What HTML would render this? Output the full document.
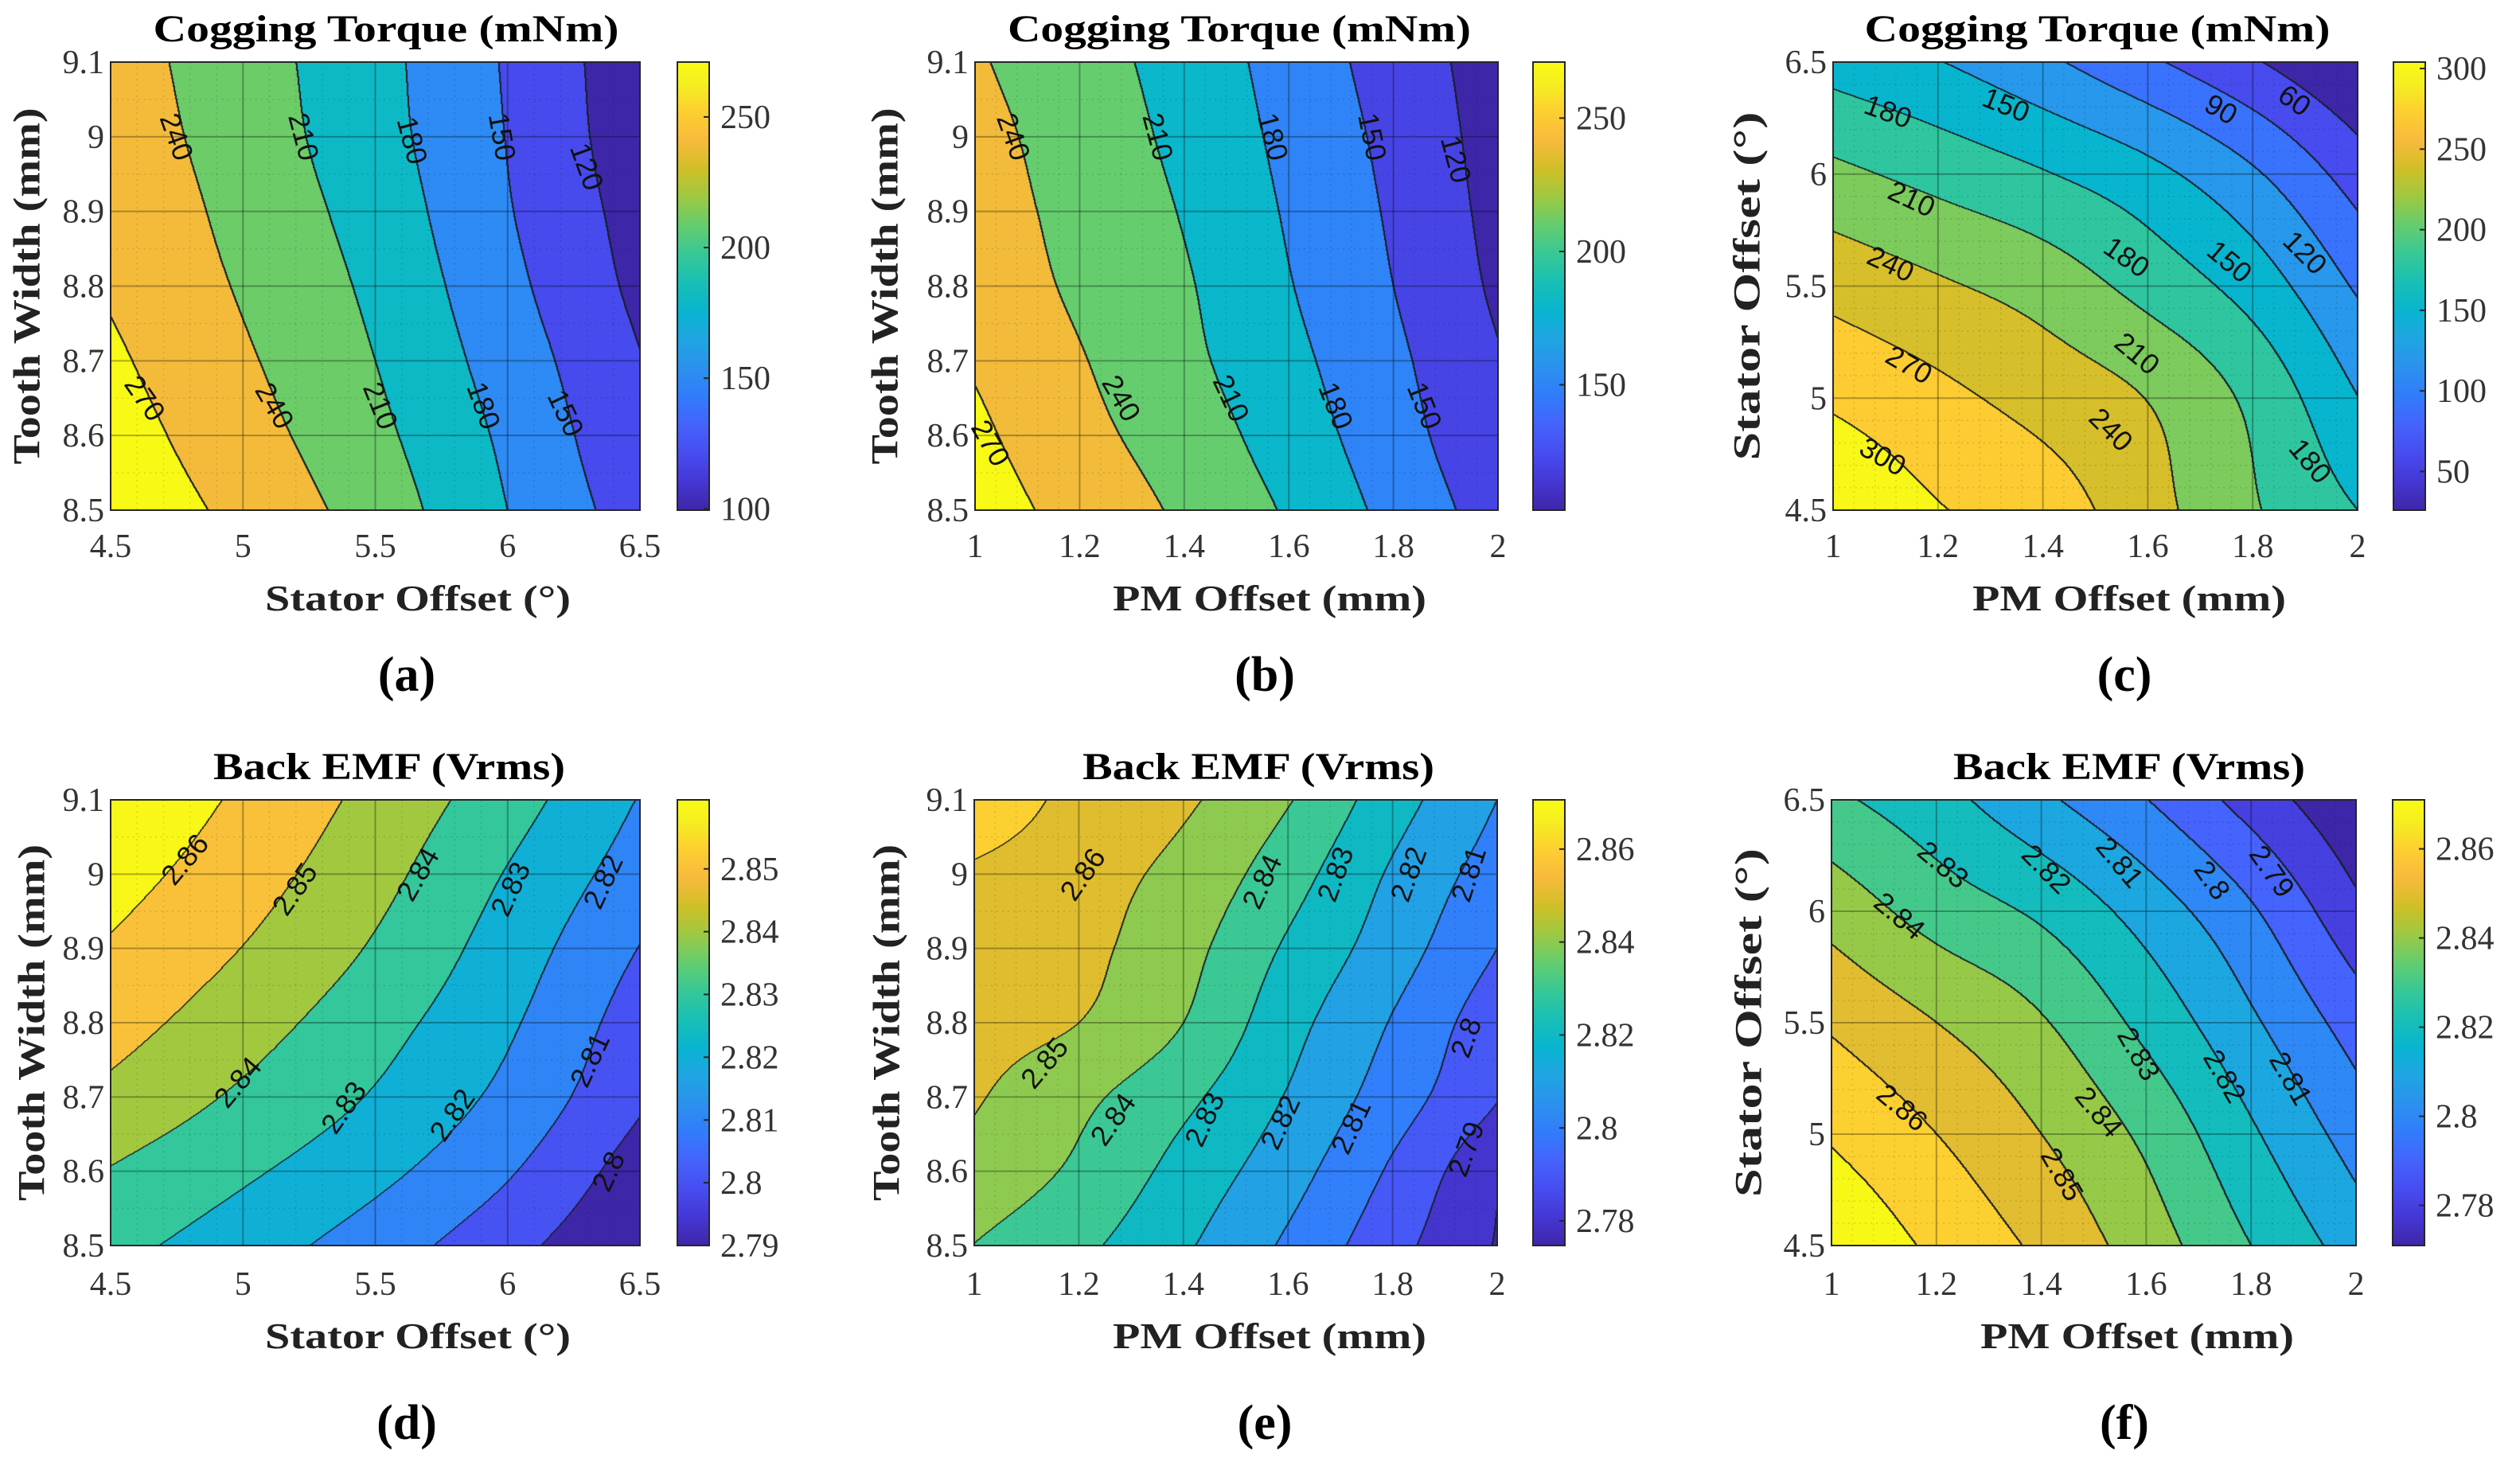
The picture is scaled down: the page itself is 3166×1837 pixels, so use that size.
<!DOCTYPE html>
<html><head><meta charset="utf-8">
<style>
html,body{margin:0;padding:0;background:#fff;}
#root{position:relative;width:3166px;height:1837px;overflow:hidden;background:#fff;}
canvas{position:absolute;}
svg{position:absolute;left:0;top:0;}
</style></head>
<body>
<div id="root">
<svg id="svg" width="3166" height="1837"></svg>
</div>
<script>
// ---------- Panel (a): Cogging torque vs stator offset / tooth width ----------
const aX=[4.5,5,5.5,6,6.5];
const aY=[8.5,8.6,8.7,8.8,8.9,9.0,9.1];
const aZ=[[290,262,226,180,135],[283,252,217,174,126],[275,244,210,166,121],[267,237,203.5,158,113],[263,231,197,152,108],[257,226,191,149,102],[253,223,189,147,100]];
const aLevels=[120,150,180,210,240,270];
const aClim=[99.5,271];
const aCbTicks=[100,150,200,250];
const aCbTickLabels=['100','150','200','250'];
const aXTicks=[4.5,5,5.5,6,6.5];
const aXTickLabels=['4.5','5','5.5','6','6.5'];
const aYTicks=[8.5,8.6,8.7,8.8,8.9,9.0,9.1];
const aYTickLabels=['8.5','8.6','8.7','8.8','8.9','9','9.1'];
const aLabelText=['240','210','180','150','120','270','240','210','180','150'];
const aLabelX=[4.75,5.23,5.64,5.98,6.3,4.63,5.12,5.52,5.91,6.22];
const aLabelY=[9.0,9.0,8.995,9.0,8.96,8.65,8.64,8.64,8.64,8.63];
const aLabelRot=[70,75,75,80,70,55,60,68,70,65];

// ---------- Panel (b) ----------
const bX=[1,1.2,1.4,1.6,1.8,2];
const bY=[8.5,8.6,8.7,8.8,8.9,9.0,9.1];
const bZ=[[285,259,235,206.5,171,136],[276,249,225.5,196,162,127],[267,242,217,188,156,122],[258,235,213,181.5,150,115],[253,231,208,177,146,111],[249,227,202.5,172.5,142,108],[243,222,198,168,137,106]];
const bLevels=[120,150,180,210,240,270];
const bClim=[103,271];
const bCbTicks=[150,200,250];
const bCbTickLabels=['150','200','250'];
const bXTicks=[1,1.2,1.4,1.6,1.8,2];
const bXTickLabels=['1','1.2','1.4','1.6','1.8','2'];
const bYTicks=[8.5,8.6,8.7,8.8,8.9,9.0,9.1];
const bYTickLabels=['8.5','8.6','8.7','8.8','8.9','9','9.1'];
const bLabelText=['240','210','180','150','120','270','240','210','180','150'];
const bLabelX=[1.074,1.35,1.57,1.76,1.92,1.03,1.28,1.49,1.69,1.86];
const bLabelY=[9.0,9.0,9.0,9.0,8.97,8.59,8.65,8.65,8.64,8.64];
const bLabelRot=[70,75,75,78,75,60,60,65,68,68];

// ---------- Panel (c) ----------
const cX=[1,1.2,1.4,1.6,1.8,2];
const cY=[4.5,5,5.5,6,6.5];
const cZ=[[329,302,286,251,213,180],[295,277.5,259,239,203,150.6],[260,244,227,199.5,167,116],[217,200,182,159,124,76],[168,151,126,95,63,28]];
const cLevels=[60,90,120,150,180,210,240,270,300];
const cClim=[26,304];
const cCbTicks=[50,100,150,200,250,300];
const cCbTickLabels=['50','100','150','200','250','300'];
const cXTicks=[1,1.2,1.4,1.6,1.8,2];
const cXTickLabels=['1','1.2','1.4','1.6','1.8','2'];
const cYTicks=[4.5,5,5.5,6,6.5];
const cYTickLabels=['4.5','5','5.5','6','6.5'];
const cLabelText=['180','150','90','60','210','240','270','300','180','150','120','210','240','180'];
const cLabelX=[1.105,1.33,1.74,1.88,1.15,1.11,1.145,1.095,1.56,1.756,1.90,1.58,1.53,1.91];
const cLabelY=[6.28,6.31,6.29,6.33,5.89,5.60,5.15,4.74,5.63,5.61,5.65,5.20,4.86,4.72];
const cLabelRot=[20,22,30,35,25,25,30,30,35,40,45,40,45,50];

// ---------- Panel (d) ----------
const dX=[4.5,5,5.5,6,6.5];
const dY=[8.5,8.6,8.7,8.8,8.9,9.0,9.1];
const dZ=[[2.833,2.8247,2.815,2.8032,2.79],[2.8395,2.8316,2.8227,2.811,2.7952],[2.8475,2.8384,2.8291,2.8173,2.8015],[2.854,2.8443,2.8338,2.8215,2.805],[2.859,2.8498,2.8389,2.8253,2.8097],[2.864,2.8543,2.8432,2.8294,2.8151],[2.869,2.8583,2.8471,2.8343,2.8195]];
const dLevels=[2.80,2.81,2.82,2.83,2.84,2.85,2.86];
const dClim=[2.79,2.861];
const dCbTicks=[2.79,2.80,2.81,2.82,2.83,2.84,2.85];
const dCbTickLabels=['2.79','2.8','2.81','2.82','2.83','2.84','2.85'];
const dXTicks=[4.5,5,5.5,6,6.5];
const dXTickLabels=['4.5','5','5.5','6','6.5'];
const dYTicks=[8.5,8.6,8.7,8.8,8.9,9.0,9.1];
const dYTickLabels=['8.5','8.6','8.7','8.8','8.9','9','9.1'];
const dLabelText=['2.86','2.85','2.84','2.83','2.82','2.84','2.83','2.82','2.81','2.8'];
const dLabelX=[4.78,5.195,5.66,6.01,6.36,4.98,5.38,5.79,6.31,6.38];
const dLabelY=[9.02,8.98,9.0,8.98,8.99,8.72,8.686,8.676,8.75,8.60];
const dLabelRot=[-50,-55,-60,-65,-65,-50,-55,-55,-65,-65];

// ---------- Panel (e) ----------
const eX=[1,1.2,1.4,1.6,1.8,2];
const eY=[8.5,8.6,8.7,8.8,8.9,9.0,9.1];
const eZ=[[2.8398,2.8322,2.8214,2.8083,2.7933,2.7793],[2.8462,2.8382,2.8265,2.814,2.7985,2.7815],[2.851,2.8424,2.8324,2.8193,2.805,2.7905],[2.8537,2.85,2.84,2.8236,2.8093,2.7938],[2.8564,2.8525,2.8433,2.8286,2.8147,2.80],[2.8585,2.8536,2.8471,2.8343,2.8187,2.8053],[2.869,2.8567,2.8515,2.8407,2.8243,2.81]];
const eLevels=[2.78,2.79,2.80,2.81,2.82,2.83,2.84,2.85,2.86];
const eClim=[2.7747,2.8706];
const eCbTicks=[2.78,2.80,2.82,2.84,2.86];
const eCbTickLabels=['2.78','2.8','2.82','2.84','2.86'];
const eXTicks=[1,1.2,1.4,1.6,1.8,2];
const eXTickLabels=['1','1.2','1.4','1.6','1.8','2'];
const eYTicks=[8.5,8.6,8.7,8.8,8.9,9.0,9.1];
const eYTickLabels=['8.5','8.6','8.7','8.8','8.9','9','9.1'];
const eLabelText=['2.86','2.84','2.83','2.82','2.81','2.85','2.84','2.83','2.82','2.81','2.8','2.79'];
const eLabelX=[1.207,1.55,1.69,1.83,1.945,1.134,1.265,1.44,1.585,1.72,1.94,1.94];
const eLabelY=[9.0,8.99,9.0,9.0,9.0,8.746,8.67,8.67,8.666,8.66,8.78,8.63];
const eLabelRot=[-55,-65,-70,-70,-72,-50,-55,-65,-65,-65,-70,-70];

// ---------- Panel (f) ----------
const fX=[1,1.2,1.4,1.6,1.8,2];
const fY=[4.5,5,5.5,6,6.5];
const fZ=[[2.8788,2.868,2.858,2.845,2.83,2.8155],[2.8688,2.86,2.85,2.8378,2.8214,2.8056],[2.8586,2.85,2.8409,2.8271,2.8116,2.7954],[2.8461,2.8358,2.8281,2.8157,2.8012,2.7825],[2.832,2.8235,2.812,2.8002,2.7858,2.771]];
const fLevels=[2.78,2.79,2.80,2.81,2.82,2.83,2.84,2.85,2.86,2.87];
const fClim=[2.771,2.871];
const fCbTicks=[2.78,2.80,2.82,2.84,2.86];
const fCbTickLabels=['2.78','2.8','2.82','2.84','2.86'];
const fXTicks=[1,1.2,1.4,1.6,1.8,2];
const fXTickLabels=['1','1.2','1.4','1.6','1.8','2'];
const fYTicks=[4.5,5,5.5,6,6.5];
const fYTickLabels=['4.5','5','5.5','6','6.5'];
const fLabelText=['2.83','2.82','2.81','2.8','2.79','2.84','2.83','2.82','2.81','2.86','2.84','2.85'];
const fLabelX=[1.213,1.41,1.55,1.726,1.84,1.13,1.586,1.75,1.876,1.135,1.51,1.44];
const fLabelY=[6.21,6.19,6.22,6.14,6.18,5.98,5.36,5.26,5.25,5.12,5.10,4.82];
const fLabelRot=[40,45,50,55,55,40,60,60,60,40,50,60];

// ---------- layout (pixels, not data) ----------
const R1={top:78,bottom:641}, R2={top:1005,bottom:1565};
const panels=[
 {id:'a',X:aX,Y:aY,Z:aZ,lev:aLevels,clim:aClim,cbt:aCbTicks,cbl:aCbTickLabels,xt:aXTicks,xl:aXTickLabels,yt:aYTicks,yl:aYTickLabels,lt:aLabelText,lx:aLabelX,ly:aLabelY,lr:aLabelRot,
  L:{left:139,right:804,top:R1.top,bottom:R1.bottom,cb0:851,cb1:891},title:'Cogging Torque (mNm)',tcx:485,tlen:585,xt_:'Stator Offset (°)',xcx:525,xlen:384,yt_:'Tooth Width (mm)',ycx:34,ylen:448,letter:'(a)',lcx:511,row:0},
 {id:'b',X:bX,Y:bY,Z:bZ,lev:bLevels,clim:bClim,cbt:bCbTicks,cbl:bCbTickLabels,xt:bXTicks,xl:bXTickLabels,yt:bYTicks,yl:bYTickLabels,lt:bLabelText,lx:bLabelX,ly:bLabelY,lr:bLabelRot,
  L:{left:1225,right:1882,top:R1.top,bottom:R1.bottom,cb0:1926,cb1:1966},title:'Cogging Torque (mNm)',tcx:1557,tlen:582,xt_:'PM Offset (mm)',xcx:1595,xlen:394,yt_:'Tooth Width (mm)',ycx:1112,ylen:448,letter:'(b)',lcx:1589,row:0},
 {id:'c',X:cX,Y:cY,Z:cZ,lev:cLevels,clim:cClim,cbt:cCbTicks,cbl:cCbTickLabels,xt:cXTicks,xl:cXTickLabels,yt:cYTicks,yl:cYTickLabels,lt:cLabelText,lx:cLabelX,ly:cLabelY,lr:cLabelRot,
  L:{left:2303,right:2962,top:R1.top,bottom:R1.bottom,cb0:3007,cb1:3047},title:'Cogging Torque (mNm)',tcx:2635,tlen:585,xt_:'PM Offset (mm)',xcx:2675,xlen:394,yt_:'Stator Offset (°)',ycx:2195,ylen:438,letter:'(c)',lcx:2669,row:0},
 {id:'d',X:dX,Y:dY,Z:dZ,lev:dLevels,clim:dClim,cbt:dCbTicks,cbl:dCbTickLabels,xt:dXTicks,xl:dXTickLabels,yt:dYTicks,yl:dYTickLabels,lt:dLabelText,lx:dLabelX,ly:dLabelY,lr:dLabelRot,
  L:{left:139,right:804,top:R2.top,bottom:R2.bottom,cb0:851,cb1:891},title:'Back EMF (Vrms)',tcx:489,tlen:442,xt_:'Stator Offset (°)',xcx:525,xlen:384,yt_:'Tooth Width (mm)',ycx:40,ylen:448,letter:'(d)',lcx:511,row:1},
 {id:'e',X:eX,Y:eY,Z:eZ,lev:eLevels,clim:eClim,cbt:eCbTicks,cbl:eCbTickLabels,xt:eXTicks,xl:eXTickLabels,yt:eYTicks,yl:eYTickLabels,lt:eLabelText,lx:eLabelX,ly:eLabelY,lr:eLabelRot,
  L:{left:1224,right:1881,top:R2.top,bottom:R2.bottom,cb0:1926,cb1:1966},title:'Back EMF (Vrms)',tcx:1581,tlen:442,xt_:'PM Offset (mm)',xcx:1595,xlen:394,yt_:'Tooth Width (mm)',ycx:1114,ylen:448,letter:'(e)',lcx:1589,row:1},
 {id:'f',X:fX,Y:fY,Z:fZ,lev:fLevels,clim:fClim,cbt:fCbTicks,cbl:fCbTickLabels,xt:fXTicks,xl:fXTickLabels,yt:fYTicks,yl:fYTickLabels,lt:fLabelText,lx:fLabelX,ly:fLabelY,lr:fLabelRot,
  L:{left:2301,right:2960,top:R2.top,bottom:R2.bottom,cb0:3006,cb1:3046},title:'Back EMF (Vrms)',tcx:2675,tlen:442,xt_:'PM Offset (mm)',xcx:2685,xlen:394,yt_:'Stator Offset (°)',ycx:2197,ylen:438,letter:'(f)',lcx:2669,row:1}
];

// MATLAB parula colormap (sampled)
const PAR_T=[0,4,8,12,16,20,24,28,32,36,40,44,48,52,56,60,63].map(i=>i/63);
const PAR=[[.2422,.1504,.6603],[.2706,.2147,.8364],[.2813,.3006,.9414],[.2699,.3892,.9906],[.1963,.4847,.9892],[.1687,.5703,.9359],[.1248,.6459,.8883],[.0297,.7082,.8163],[.0964,.7500,.7120],[.2161,.7843,.5923],[.3909,.8029,.4354],[.6174,.7876,.2612],[.8203,.7498,.1535],[.9728,.7298,.2394],[.9892,.8136,.1885],[.9628,.9373,.1265],[.9769,.9839,.0805]];
function parula(t){
  t=Math.max(0,Math.min(1,t));
  let i=0; while(i<PAR_T.length-2 && t>PAR_T[i+1]) i++;
  const f=(t-PAR_T[i])/(PAR_T[i+1]-PAR_T[i]);
  return PAR[i].map((c,k)=>Math.round(255*(c+(PAR[i+1][k]-c)*f)));
}
// Catmull-Rom cubic interpolation along 1D array
function cr1(arr,i,t){
  const n=arr.length;
  const p1=arr[i], p2=arr[i+1];
  const p0=i>0?arr[i-1]:2*p1-p2;
  const p3=i+2<n?arr[i+2]:2*p2-p1;
  const t2=t*t,t3=t2*t;
  return 0.5*((2*p1)+(-p0+p2)*t+(2*p0-5*p1+4*p2-p3)*t2+(-p0+3*p1-3*p2+p3)*t3);
}
function interp(X,Y,Z,x,y){
  let i=0; while(i<X.length-2 && x>X[i+1]) i++;
  let j=0; while(j<Y.length-2 && y>Y[j+1]) j++;
  const tx=(x-X[i])/(X[i+1]-X[i]), ty=(y-Y[j])/(Y[j+1]-Y[j]);
  const col=Z.map(row=>cr1(row,i,tx));
  return cr1(col,j,ty);
}
const NS='http://www.w3.org/2000/svg';
const svg=document.getElementById('svg');
const root=document.getElementById('root');
function mk(tag,attrs,parent){const e=document.createElementNS(NS,tag);for(const k in attrs)e.setAttribute(k,attrs[k]);(parent||svg).appendChild(e);return e;}

panels.forEach(p=>{
  const L=p.L, X=p.X, Y=p.Y;
  const x0=X[0], x1=X[X.length-1], y0=Y[0], y1=Y[Y.length-1];
  const W=L.right-L.left, H=L.bottom-L.top;
  const sx=v=>L.left+(v-x0)/(x1-x0)*W;
  const sy=v=>L.bottom-(v-y0)/(y1-y0)*H;
  const g=mk('g',{});
  
  

  const cv=document.createElement('canvas');
  cv.width=W; cv.height=H; cv.style.left=L.left+'px'; cv.style.top=L.top+'px';
  
  
  root.insertBefore(cv,svg);
  const ctx=cv.getContext('2d'); const img=ctx.createImageData(W,H); const band=new Int16Array(W*H);
  const bandCol=[];
  for(let k=0;k<=p.lev.length;k++){const v=k===0?p.clim[0]:p.lev[k-1];bandCol.push(parula((v-p.clim[0])/(p.clim[1]-p.clim[0])));}
  for(let j=0;j<H;j++){const yv=y1-(j+0.5)/H*(y1-y0);
    for(let i=0;i<W;i++){const xv=x0+(i+0.5)/W*(x1-x0);
      const z=interp(X,Y,p.Z,xv,yv); let k=0; while(k<p.lev.length && z>=p.lev[k]) k++; band[j*W+i]=k;}}
  for(let q=0;q<W*H;q++){const c=bandCol[band[q]];img.data[q*4]=c[0];img.data[q*4+1]=c[1];img.data[q*4+2]=c[2];img.data[q*4+3]=255;}
  for(let j=0;j<H;j++)for(let i=0;i<W;i++){const q=j*W+i;
    let edge=(i<W-1&&band[q]!==band[q+1])||(j<H-1&&band[q]!==band[q+W]);
    if(edge){[q,(i<W-1?q+1:q)].forEach(r=>{img.data[r*4]=25;img.data[r*4+1]=30;img.data[r*4+2]=40;});}}
  ctx.putImageData(img,0,0);

  for(let t=0;t<p.xt.length-1;t++)for(let m=1;m<5;m++){const v=p.xt[t]+(p.xt[t+1]-p.xt[t])*m/5;
    const l=mk('line',{x1:sx(v),x2:sx(v),y1:L.top,y2:L.bottom,stroke:'rgba(0,0,0,0.13)','stroke-width':1.5,'stroke-dasharray':'2 5'},g);
    
    }
  for(let t=0;t<p.yt.length-1;t++){const n=p.yt.length>5?2:5;for(let m=1;m<n;m++){const v=p.yt[t]+(p.yt[t+1]-p.yt[t])*m/n;
    const l=mk('line',{x1:L.left,x2:L.right,y1:sy(v),y2:sy(v),stroke:'rgba(0,0,0,0.13)','stroke-width':1.5,'stroke-dasharray':'2 5'},g);
    
    }}
  p.xt.forEach((v,idx)=>{
    const l=mk('line',{x1:sx(v),x2:sx(v),y1:L.top,y2:L.bottom,stroke:'rgba(0,0,0,0.3)','stroke-width':2},g);
    
    
    const t=mk('text',{x:sx(v),y:L.top+(p.row?1627-1005:700-78),'text-anchor':'middle','font-family':'Liberation Serif, serif','font-size':42,fill:'#333'},g);
    t.textContent=p.xl[idx];
    
    
  });
  p.yt.forEach((v,idx)=>{
    const l=mk('line',{x1:L.left,x2:L.right,y1:sy(v),y2:sy(v),stroke:'rgba(0,0,0,0.3)','stroke-width':2},g);
    
    
    const t=mk('text',{x:L.left-8,y:sy(v)+14,'text-anchor':'end','font-family':'Liberation Serif, serif','font-size':42,fill:'#333'},g);
    t.textContent=p.yl[idx];
    
    
  });
  const box=mk('rect',{x:L.left,y:L.top,width:W,height:H,fill:'none',stroke:'#262626','stroke-width':2},g);
  
  

  p.lt.forEach((s,idx)=>{
    const cx=sx(p.lx[idx]), cy=sy(p.ly[idx]);
    const t=mk('text',{x:cx,y:cy,'text-anchor':'middle','dominant-baseline':'central','font-family':'Liberation Sans, sans-serif','font-size':36,fill:'#111',transform:'rotate('+p.lr[idx]+' '+cx+' '+cy+')'},g);
    t.textContent=s;
    
    
  });

  const cbW=L.cb1-L.cb0;
  const cb=document.createElement('canvas'); cb.width=cbW; cb.height=H;
  cb.style.left=L.cb0+'px'; cb.style.top=L.top+'px';
  
  
  root.insertBefore(cb,svg);
  const cc=cb.getContext('2d');
  for(let j=0;j<H;j++){const c=parula(1-(j+0.5)/H);cc.fillStyle='rgb('+c.join(',')+')';cc.fillRect(0,j,cbW,1);}
  const cbox=mk('rect',{x:L.cb0,y:L.top,width:cbW,height:H,fill:'none',stroke:'#262626','stroke-width':2},g);
  
  
  const cy_=v=>L.bottom-(v-p.clim[0])/(p.clim[1]-p.clim[0])*H;
  p.cbt.forEach((v,idx)=>{
    const tk=mk('line',{x1:L.cb1-7,x2:L.cb1,y1:cy_(v),y2:cy_(v),stroke:'#262626','stroke-width':2},g);
    
    
    const t=mk('text',{x:L.cb1+14,y:cy_(v)+14,'font-family':'Liberation Serif, serif','font-size':42,fill:'#333'},g);
    t.textContent=p.cbl[idx];
    
    
  });

  const off=p.row?927:0;
  const tt=mk('text',{x:p.tcx,y:52+off,'text-anchor':'middle','font-family':'Liberation Serif, serif','font-weight':'bold','font-size':48,textLength:p.tlen,lengthAdjust:'spacingAndGlyphs',fill:'#000'},g);
  tt.textContent=p.title;
  
  
  const xt=mk('text',{x:p.xcx,y:767+off,'text-anchor':'middle','font-family':'Liberation Serif, serif','font-weight':'bold','font-size':46,textLength:p.xlen,lengthAdjust:'spacingAndGlyphs',fill:'#222'},g);
  xt.textContent=p.xt_;
  
  
  const ymid=(L.top+L.bottom)/2;
  const yt=mk('text',{x:p.ycx,y:ymid,'text-anchor':'middle','dominant-baseline':'central','font-family':'Liberation Serif, serif','font-weight':'bold','font-size':48,textLength:p.ylen,lengthAdjust:'spacingAndGlyphs',fill:'#222',transform:'rotate(-90 '+p.ycx+' '+ymid+')'},g);
  yt.textContent=p.yt_;
  
  
  const lt=mk('text',{x:p.lcx,y:(p.row?1808:868),'text-anchor':'middle','font-family':'Liberation Serif, serif','font-weight':'bold','font-size':62,fill:'#000'},g);
  lt.textContent=p.letter;
  
  
});
</script>
</body></html>
